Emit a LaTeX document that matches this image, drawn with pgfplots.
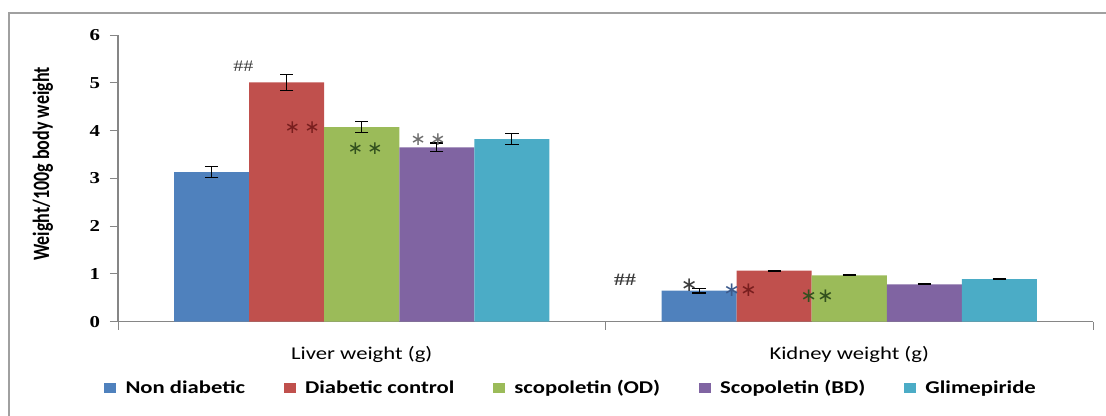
\documentclass[border=0pt]{standalone}
\usepackage{fontspec}
\setmainfont{Carlito}[FakeStretch=1.26]
\newfontfamily\plainfont{Carlito}
\newfontfamily\serifnum{Liberation Serif}[FakeStretch=1.25]
\newfontfamily\symfont{DejaVu Sans}
\usepackage{graphicx}
\usepackage{pgfplots}
\pgfplotsset{compat=1.18}
\definecolor{c1}{RGB}{79,129,189}
\definecolor{c2}{RGB}{192,80,77}
\definecolor{c3}{RGB}{155,187,89}
\definecolor{c4}{RGB}{128,100,162}
\definecolor{c5}{RGB}{75,172,198}
\definecolor{axisgray}{RGB}{134,134,134}
\definecolor{framegray}{RGB}{160,160,160}
\definecolor{darkred}{RGB}{120,30,30}
\definecolor{darkgreen}{RGB}{50,80,30}
\definecolor{midgray}{RGB}{110,110,110}
\definecolor{darkgray2}{RGB}{60,60,60}
\definecolor{starblue}{RGB}{60,90,140}
\newcommand{\st}{{\symfont ∗}}
\begin{document}
\begin{tikzpicture}
\useasboundingbox (0pt,0pt) rectangle (829.5pt,311.25pt);
\draw[framegray, line width=0.9pt] (6.75pt,-20pt) -- (6.75pt,301.5pt) -- (850pt,301.5pt);
\pgfplotstableread{
x  v   e
0  3.13 0.12
1  0.65 0.05
}\nd
\pgfplotstableread{
x  v   e
0  5.01 0.17
1  1.07 0.01
}\dc
\pgfplotstableread{
x  v   e
0  4.07 0.11
1  0.97 0.01
}\od
\pgfplotstableread{
x  v   e
0  3.65 0.09
1  0.78 0.01
}\bd
\pgfplotstableread{
x  v   e
0  3.82 0.11
1  0.89 0.01
}\gl
\begin{axis}[
  at={(88.5pt,70pt)}, anchor=south west,
  scale only axis, width=731.25pt, height=215pt,
  xmin=-0.5, xmax=1.5, ymin=0, ymax=6,
  axis x line*=bottom, axis y line*=left,
  axis line style={axisgray, line width=0.8pt},
  ybar=0pt, bar width=0.154,
  ytick={0,1,2,3,4,5,6},
  tick align=outside, major tick length=6pt,
  tick style={axisgray, line width=0.7pt},
  /pgf/number format/assume math mode=true,
  yticklabel style={font=\serifnum\bfseries\fontsize{12.5}{14}\selectfont, xshift=-4pt},
  xtick={-0.5,0.5,1.5}, xticklabels={,,},
  extra x ticks={0,1},
  extra x tick labels={Liver weight (g), Kidney weight (g)},
  extra x tick style={major tick length=0pt, xticklabel style={font=\fontsize{13.5}{16}\selectfont, yshift=-15pt}},
  ylabel={\scalebox{1}[1.3]{\plainfont\bfseries Weight/100g body weight}},
  every axis y label/.style={at={(axis description cs:-0.077,0.55)}, rotate=90, anchor=center, font=\fontsize{13.5}{16}\selectfont},
  error bars/y dir=both, error bars/y explicit,
  error bars/error bar style={black, line width=0.8pt},
  error bars/error mark options={rotate=90, mark size=5pt, black, line width=0.8pt},
  legend columns=5,
  legend style={at={(0.465,-0.231)}, anchor=center, draw=none, fill=none,
    font=\bfseries\fontsize{13.5}{16}\selectfont,
    /tikz/every even column/.append style={column sep=27pt}},
  legend image code/.code={\fill[#1] (0pt,-3.75pt) rectangle (9pt,3.75pt); \path (14pt,0pt);},
]
\addplot[fill=c1, draw=none] table[x=x, y=v, y error=e] {\nd};
\addplot[fill=c2, draw=none] table[x=x, y=v, y error=e] {\dc};
\addplot[fill=c3, draw=none] table[x=x, y=v, y error=e] {\od};
\addplot[fill=c4, draw=none] table[x=x, y=v, y error=e] {\bd};
\addplot[fill=c5, draw=none] table[x=x, y=v, y error=e] {\gl};
\legend{Non diabetic, Diabetic control, scopoletin (OD), Scopoletin (BD), Glimepiride}
% significance marks
\node[darkgray2, font=\serifnum\fontsize{12}{13}\selectfont] at (axis cs:-0.243,5.35) {\#\#};
\node[darkred, font=\fontsize{14}{15}\selectfont] at (axis cs:-0.122,4.06) {\st\hspace{3pt}\st};
\node[darkgreen, font=\fontsize{14}{15}\selectfont] at (axis cs:0.007,3.62) {\st\hspace{3pt}\st};
\node[midgray, font=\fontsize{14}{15}\selectfont] at (axis cs:0.136,3.80) {\st\hspace{3pt}\st};
\node[darkgray2, font=\serifnum\bfseries\fontsize{13}{14}\selectfont] at (axis cs:0.54,0.88) {\#\#};
\node[darkgray2, font=\fontsize{15}{16}\selectfont] at (axis cs:0.672,0.77) {\st};
\node[font=\fontsize{15}{16}\selectfont] at (axis cs:0.776,0.65) {\textcolor{starblue}{\st}\textcolor{darkred}{\st}};
\node[darkgreen, font=\fontsize{15}{16}\selectfont] at (axis cs:0.934,0.53) {\st\st};
\end{axis}
\end{tikzpicture}
\end{document}
